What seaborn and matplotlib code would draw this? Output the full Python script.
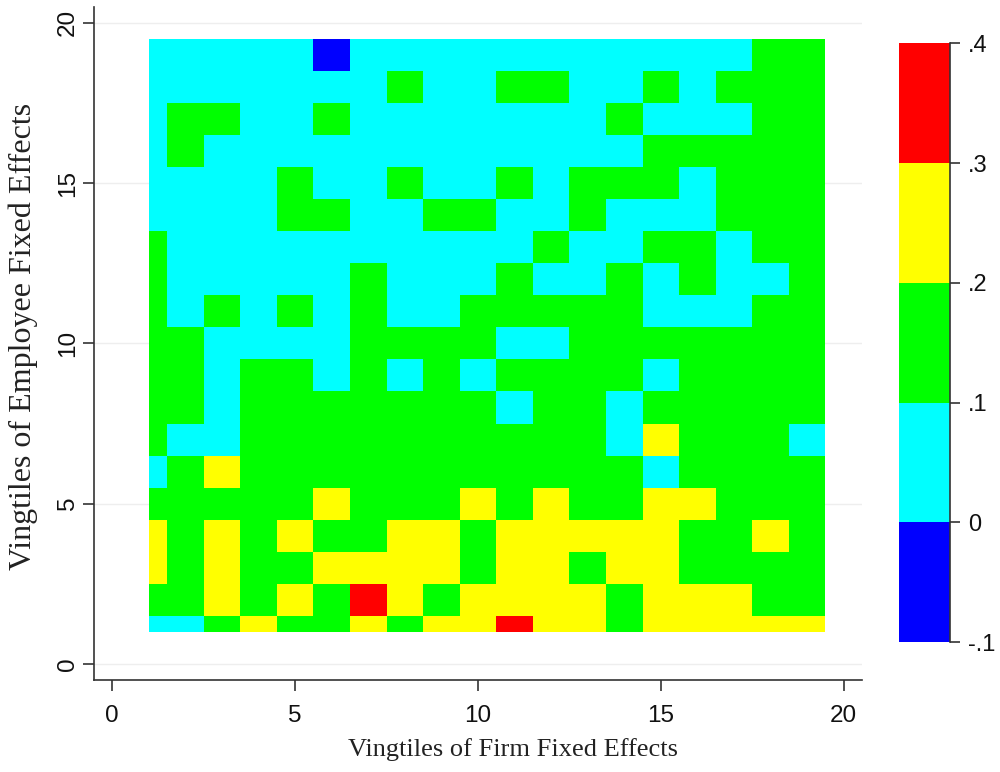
import numpy as np
import matplotlib
matplotlib.use("Agg")
import matplotlib.pyplot as plt
from matplotlib.colors import ListedColormap, BoundaryNorm
import seaborn as sns

# ---------------- data ----------------
# cell centres (vingtiles) of firm fixed effects (x) and employee fixed effects (y)
firm_vingtiles = list(range(1, 20))
employee_vingtiles = list(range(1, 20))

# binned values; one list per employee vingtile (bottom -> top),
# entries along firm vingtiles 1..19
row_01 = [.05, .05, .15, .25, .15, .15, .25, .15, .25, .25, .35, .25, .25, .15, .25, .25, .25, .25, .25]
row_02 = [.15, .15, .25, .15, .25, .15, .35, .25, .15, .25, .25, .25, .25, .15, .25, .25, .25, .15, .15]
row_03 = [.25, .15, .25, .15, .15, .25, .25, .25, .25, .15, .25, .25, .15, .25, .25, .15, .15, .15, .15]
row_04 = [.25, .15, .25, .15, .25, .15, .15, .25, .25, .15, .25, .25, .25, .25, .25, .15, .15, .25, .15]
row_05 = [.15, .15, .15, .15, .15, .25, .15, .15, .15, .25, .15, .25, .15, .15, .25, .25, .15, .15, .15]
row_06 = [.05, .15, .25, .15, .15, .15, .15, .15, .15, .15, .15, .15, .15, .15, .05, .15, .15, .15, .15]
row_07 = [.15, .05, .05, .15, .15, .15, .15, .15, .15, .15, .15, .15, .15, .05, .25, .15, .15, .15, .05]
row_08 = [.15, .15, .05, .15, .15, .15, .15, .15, .15, .15, .05, .15, .15, .05, .15, .15, .15, .15, .15]
row_09 = [.15, .15, .05, .15, .15, .05, .15, .05, .15, .05, .15, .15, .15, .15, .05, .15, .15, .15, .15]
row_10 = [.15, .15, .05, .05, .05, .05, .15, .15, .15, .15, .05, .05, .15, .15, .15, .15, .15, .15, .15]
row_11 = [.15, .05, .15, .05, .15, .05, .15, .05, .05, .15, .15, .15, .15, .15, .05, .05, .05, .15, .15]
row_12 = [.15, .05, .05, .05, .05, .05, .15, .05, .05, .05, .15, .05, .05, .15, .05, .15, .05, .05, .15]
row_13 = [.15, .05, .05, .05, .05, .05, .05, .05, .05, .05, .05, .15, .05, .05, .15, .15, .05, .15, .15]
row_14 = [.05, .05, .05, .05, .15, .15, .05, .05, .15, .15, .05, .05, .15, .05, .05, .05, .15, .15, .15]
row_15 = [.05, .05, .05, .05, .15, .05, .05, .15, .05, .05, .15, .05, .15, .15, .15, .05, .15, .15, .15]
row_16 = [.05, .15, .05, .05, .05, .05, .05, .05, .05, .05, .05, .05, .05, .05, .15, .15, .15, .15, .15]
row_17 = [.05, .15, .15, .05, .05, .15, .05, .05, .05, .05, .05, .05, .05, .15, .05, .05, .05, .15, .15]
row_18 = [.05, .05, .05, .05, .05, .05, .05, .15, .05, .05, .15, .15, .05, .05, .15, .05, .15, .15, .15]
row_19 = [.05, .05, .05, .05, .05, -.05, .05, .05, .05, .05, .05, .05, .05, .05, .05, .05, .05, .15, .15]

color_bounds = [-0.1, 0.0, 0.1, 0.2, 0.3, 0.4]
color_bound_labels = ["-.1", "0", ".1", ".2", ".3", ".4"]
bin_colors = ["#0000ff", "#00ffff", "#00ff00", "#ffff00", "#ff0000"]

axis_ticks = [0, 5, 10, 15, 20]
x_title = "Vingtiles of Firm Fixed Effects"
y_title = "Vingtiles of Employee Fixed Effects"

# ---------------- build the grid on a half-vingtile lattice ----------------
values = np.array([row_01, row_02, row_03, row_04, row_05, row_06, row_07, row_08, row_09, row_10,
                   row_11, row_12, row_13, row_14, row_15, row_16, row_17, row_18, row_19])

step = 0.5
x0 = firm_vingtiles[0]
y0 = employee_vingtiles[0]
# Stata-style cells: boundaries halfway between points, first cell clipped at the first point
x_edges = np.array([x0] + [v + step for v in firm_vingtiles])
y_edges = np.array([y0] + [v + step for v in employee_vingtiles])
rep_x = np.rint(np.diff(x_edges) / step).astype(int)
rep_y = np.rint(np.diff(y_edges) / step).astype(int)
grid = np.repeat(np.repeat(values, rep_y, axis=0), rep_x, axis=1)


def to_hx(v):
    return (v - x0) / step


def to_hy(v):
    return (v - y0) / step


# ---------------- figure ----------------
sns.set_style("white")
plt.rcParams['font.family'] = ['Liberation Sans', 'DejaVu Sans']

fig = plt.figure(figsize=(10, 7.72), dpi=100)
ax = fig.add_axes([0.094, 0.1192, 0.768, 0.872])
cax = fig.add_axes([0.899, 0.168, 0.051, 0.776])

cmap = ListedColormap(bin_colors)
norm = BoundaryNorm(color_bounds, cmap.N)

sns.heatmap(grid, ax=ax, cmap=cmap, norm=norm, cbar_ax=cax,
            cbar_kws=dict(ticks=color_bounds),
            xticklabels=False, yticklabels=False)

# axes back to numeric vingtile scale (un-inverted y)
lim_lo, lim_hi = axis_ticks[0] - 0.5, axis_ticks[-1] + 0.5
ax.set_xlim(to_hx(lim_lo), to_hx(lim_hi))
ax.set_ylim(to_hy(lim_lo), to_hy(lim_hi))
ax.set_xticks([to_hx(t) for t in axis_ticks])
ax.set_xticklabels([str(t) for t in axis_ticks])
ax.set_yticks([to_hy(t) for t in axis_ticks])
ax.set_yticklabels([str(t) for t in axis_ticks], rotation=90, va="center")

for side in ["left", "bottom"]:
    ax.spines[side].set_visible(True)
    ax.spines[side].set_color("#333333")
    ax.spines[side].set_linewidth(1.2)
for side in ["top", "right"]:
    ax.spines[side].set_visible(False)

ax.tick_params(axis="x", bottom=True, direction="out", length=8, width=1.2,
               color="#333333", labelsize=17.5, labelcolor="#111111", pad=10)
ax.tick_params(axis="y", left=True, direction="out", length=8, width=1.2,
               color="#333333", labelsize=17.5, labelcolor="#111111", pad=3)

ax.set_axisbelow(True)
ax.yaxis.grid(True, color="#eeeeee", linewidth=1.0)
ax.xaxis.grid(False)

ax.set_xlabel(x_title, fontfamily="Liberation Serif", fontsize=19, color="#222222")
ax.xaxis.set_label_coords(0.546, -0.086)
ax.set_ylabel(y_title, fontfamily="Liberation Serif", fontsize=23, color="#222222")
ax.yaxis.set_label_coords(-0.073, 0.51)

# colour bar styling
cbar = ax.collections[0].colorbar
cbar.outline.set_visible(False)
cax.spines["right"].set_visible(True)
cax.spines["right"].set_color("#333333")
cax.spines["right"].set_linewidth(1.2)
cbar.set_ticks(color_bounds)
cbar.set_ticklabels(color_bound_labels)
cax.tick_params(axis="y", right=True, direction="out", length=7, width=1.2,
                color="#333333", labelsize=17, labelcolor="#111111", pad=6)

fig.savefig("out.png", dpi=100, facecolor="white")
